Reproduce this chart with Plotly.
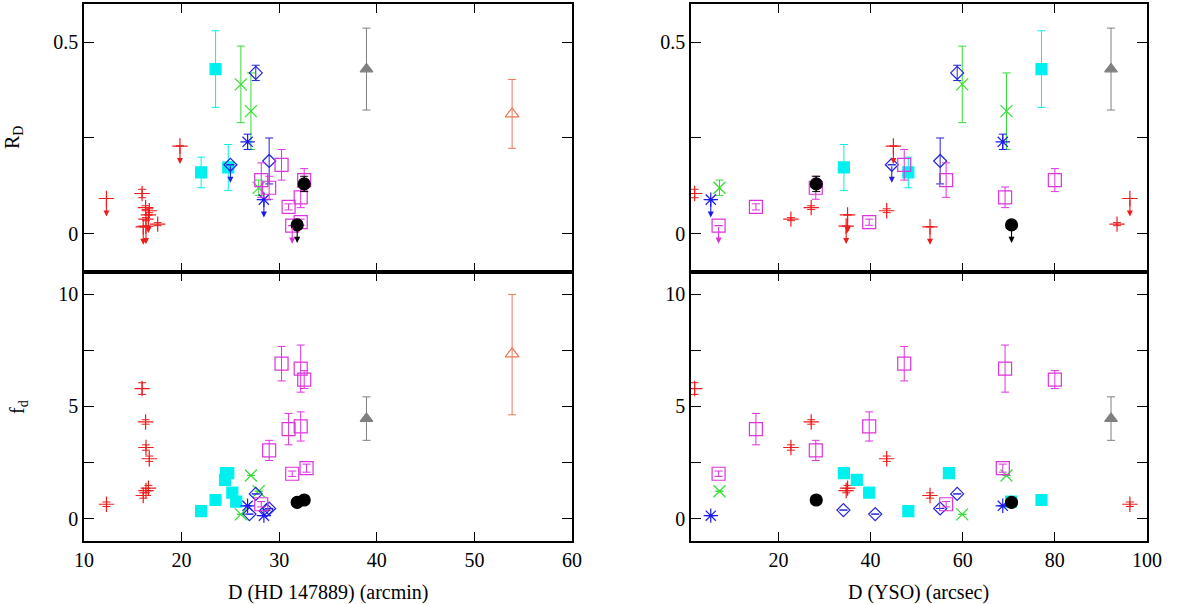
import plotly.graph_objects as go

# ---------------- data ----------------
# red "+" sources
red_dhd = [15.95, 12.3, 16.31, 16.35, 16.69, 16.6, 16.35, 16.07, 17.55, 19.83]
red_dyso = [1.8, 96.3, 27.1, 22.7, 43.5, 35.0, 34.7, 52.9, 93.5, 44.95]
red_rd = [0.105, 0.092, 0.068, 0.038, 0.060, 0.049, 0.020, 0.018, 0.025, 0.229]
red_rd_err = [0.011, 0, 0.005, 0.004, 0.005, 0, 0, 0, 0.004, 0]
red_rd_lim = [0, 1, 0, 0, 0, 1, 1, 1, 0, 1]
red_fd = [5.80, 0.64, 4.31, 3.17, 2.67, 1.36, 1.25, 1.03, None, None]
red_fd_err = [0.26, 0.10, 0.10, 0.12, 0.12, 0.12, 0.10, 0.12, None, None]

# cyan filled squares
cya_dhd = [23.48, 22.0, 24.78, 24.45, 25.2, 24.55, 25.6]
cya_dyso = [77.1, 48.2, 34.2, 37.0, 39.7, 57.0, 70.5]
cya_rd = [0.43, 0.16, 0.173, None, None, None, None]
cya_rd_err = [0.10, 0.04, 0.06, None, None, None, None]
cya_rd_lim = [0, 0, 0, 0, 0, 0, 0]
cya_fd = [0.83, 0.33, 2.03, 1.73, 1.16, 2.03, 0.76]
cya_fd_err = [0, 0, 0, 0, 0, 0, 0]

# green crosses
grn_dhd = [26.07, 27.1, 27.9]
grn_dyso = [59.9, 69.5, 7.2]
grn_rd = [0.39, 0.32, 0.12]
grn_rd_err = [0.10, 0.10, 0.02]
grn_rd_lim = [0, 0, 0]
grn_fd = [0.19, 1.92, 1.22]
grn_fd_err = [0, 0, 0]

# blue open diamonds
bdi_dhd = [27.6, 25.0, 28.97, 26.95, 28.7]
bdi_dyso = [58.8, 44.6, 55.1, 41.0, 34.1]
bdi_rd = [0.42, 0.18, 0.19, None, None]
bdi_rd_err = [0.02, 0, 0.06, None, None]
bdi_rd_lim = [0, 1, 0, 0, 0]
bdi_fd = [1.10, None, 0.45, 0.20, 0.38]
bdi_fd_err = [0, None, 0, 0, 0]

# blue asterisks
bas_dhd = [26.76, 28.43]
bas_dyso = [68.7, 5.3]
bas_rd = [0.24, 0.089]
bas_rd_err = [0.02, 0]
bas_rd_lim = [0, 1]
bas_fd = [0.57, 0.13]
bas_fd_err = [0, 0]

# magenta open squares
mag_dhd = [30.24, 28.16, 28.97, 30.96, 32.2, 32.56, 31.33, 32.2, 32.8]
mag_dyso = [47.3, 56.4, 28.1, 15.1, 69.2, 80.0, 7.0, 39.7, 68.7]
mag_rd = [0.18, 0.14, 0.12, 0.07, 0.095, 0.14, 0.021, 0.03, None]
mag_rd_err = [0.04, 0.045, 0.03, 0.008, 0.027, 0.03, 0, 0.008, None]
mag_rd_lim = [0, 0, 0, 0, 0, 0, 1, 0, 0]
mag_fd = [6.91, 0.64, 3.04, 3.99, 6.69, 6.20, 2.00, 4.11, 2.25]
mag_fd_err = [0.77, 0.12, 0.45, 0.70, 1.05, 0.40, 0.12, 0.65, 0.18]

# black filled circles
blk_dhd = [32.56, 31.84]
blk_dyso = [28.2, 70.6]
blk_rd = [0.13, 0.023]
blk_rd_err = [0.02, 0]
blk_rd_lim = [0, 1]
blk_fd = [0.83, 0.72]
blk_fd_err = [0, 0]

# gray filled triangle
gry_dhd = [38.94]
gry_dyso = [92.2]
gry_rd = [0.43]
gry_rd_err = [0.107]
gry_rd_lim = [0]
gry_fd = [4.46]
gry_fd_err = [0.97]

# orange open triangle (no YSO distance)
org_dhd = [53.86]
org_dyso = [None]
org_rd = [0.313]
org_rd_err = [0.09]
org_rd_lim = [0]
org_fd = [7.35]
org_fd_err_plus = [2.65]
org_fd_err_minus = [2.72]

# axis ticks
x_left_ticks = [10, 20, 30, 40, 50, 60]
x_right_ticks = [20, 40, 60, 80, 100]
rd_ticks = [0, 0.25, 0.5]
rd_labels = ["0", "", "0.5"]
fd_ticks = [0, 2.5, 5, 7.5, 10]
fd_labels = ["0", "", "5", "", "10"]

# ---------------- styles ----------------
groups = [
    dict(dhd=red_dhd, dyso=red_dyso, rd=red_rd, rde=red_rd_err, lim=red_rd_lim,
         fd=red_fd, fde=red_fd_err, color="#ee1c1c", symbol="cross-thin-open", size=11),
    dict(dhd=cya_dhd, dyso=cya_dyso, rd=cya_rd, rde=cya_rd_err, lim=cya_rd_lim,
         fd=cya_fd, fde=cya_fd_err, color="#00f0f0", symbol="square", size=11),
    dict(dhd=grn_dhd, dyso=grn_dyso, rd=grn_rd, rde=grn_rd_err, lim=grn_rd_lim,
         fd=grn_fd, fde=grn_fd_err, color="#33dd33", symbol="x-thin-open", size=12),
    dict(dhd=bdi_dhd, dyso=bdi_dyso, rd=bdi_rd, rde=bdi_rd_err, lim=bdi_rd_lim,
         fd=bdi_fd, fde=bdi_fd_err, color="#2222dd", symbol="diamond-open", size=10),
    dict(dhd=bas_dhd, dyso=bas_dyso, rd=bas_rd, rde=bas_rd_err, lim=bas_rd_lim,
         fd=bas_fd, fde=bas_fd_err, color="#1a1aee", symbol="asterisk-open", size=12),
    dict(dhd=mag_dhd, dyso=mag_dyso, rd=mag_rd, rde=mag_rd_err, lim=mag_rd_lim,
         fd=mag_fd, fde=mag_fd_err, color="#dd33dd", symbol="square-open", size=13),
    dict(dhd=blk_dhd, dyso=blk_dyso, rd=blk_rd, rde=blk_rd_err, lim=blk_rd_lim,
         fd=blk_fd, fde=blk_fd_err, color="#000000", symbol="circle", size=12),
    dict(dhd=gry_dhd, dyso=gry_dyso, rd=gry_rd, rde=gry_rd_err, lim=gry_rd_lim,
         fd=gry_fd, fde=gry_fd_err, color="#808080", symbol="triangle-up", size=11),
    dict(dhd=org_dhd, dyso=org_dyso, rd=org_rd, rde=org_rd_err, lim=org_rd_lim,
         fd=org_fd, fde=org_fd_err_plus, fdem=org_fd_err_minus,
         color="#ee7755", symbol="triangle-up-open", size=12),
]

ARROW_LEN = 0.047

fig = go.Figure()
annotations = []

# panel: (x key, y key, xaxis name, yaxis name)
panels = [
    ("dhd", "rd", "x", "y"),
    ("dyso", "rd", "x2", "y2"),
    ("dhd", "fd", "x3", "y3"),
    ("dyso", "fd", "x4", "y4"),
]

for g in groups:
    for xk, yk, xa, ya in panels:
        xs, ys, es, esm = [], [], [], []
        for i in range(len(g[xk])):
            xv = g[xk][i]
            yv = g[yk][i]
            if xv is None or yv is None:
                continue
            if yk == "rd":
                err = g["rde"][i] or 0
                errm = err
                if g["lim"][i]:
                    annotations.append(dict(
                        x=xv, y=yv - ARROW_LEN, ax=xv, ay=yv,
                        xref=xa, yref=ya, axref=xa, ayref=ya,
                        text="", showarrow=True, arrowhead=2, arrowsize=1.1,
                        arrowwidth=1.1, arrowcolor=g["color"], standoff=0,
                        startstandoff=0))
            else:
                err = g["fde"][i] or 0
                errm = g["fdem"][i] if "fdem" in g else err
            xs.append(xv)
            ys.append(yv)
            es.append(err)
            esm.append(errm)
        if not xs:
            continue
        fig.add_trace(go.Scatter(
            x=xs, y=ys, mode="markers", xaxis=xa, yaxis=ya, showlegend=False,
            marker=dict(symbol=g["symbol"], size=g["size"], color=g["color"],
                        line=dict(width=1.2, color=g["color"])),
            error_y=dict(type="data", array=es, arrayminus=esm, symmetric=False,
                         color=g["color"], thickness=1, width=4),
        ))

# ---------------- layout ----------------
FONT = "Liberation Serif"
xl = [0.070, 0.4767]
xr = [0.5758, 0.9558]
yt = [0.5497, 0.9934]
yb = [0.1043, 0.5497]

def xaxis(dom, rng, ticks, anchor, labels):
    return dict(domain=dom, range=rng, tickvals=ticks, showticklabels=labels,
                ticks="inside", ticklen=9, tickwidth=1.3, tickcolor="black",
                showline=True, linecolor="black", linewidth=1.6, mirror="allticks",
                showgrid=False, zeroline=False, anchor=anchor, automargin=False,
                tickfont=dict(family=FONT, size=20, color="black"))

def yaxis(dom, rng, ticks, text, anchor):
    return dict(domain=dom, range=rng, tickvals=ticks, ticktext=text,
                ticks="inside", ticklen=10, tickwidth=1.3, tickcolor="black",
                showline=True, linecolor="black", linewidth=1.6, mirror="allticks",
                showgrid=False, zeroline=False, anchor=anchor, automargin=False,
                tickfont=dict(family=FONT, size=20, color="black"))

title_font = dict(family=FONT, size=20, color="black")
annotations += [
    dict(text="R<sub>D</sub>", x=14 / 1200, y=1 - 138 / 604, xref="paper", yref="paper",
         xanchor="center", yanchor="middle",
         showarrow=False, textangle=-90, font=title_font),
    dict(text="f<sub>d</sub>", x=18 / 1200, y=1 - 407 / 604, xref="paper", yref="paper",
         xanchor="center", yanchor="middle",
         showarrow=False, textangle=-90, font=title_font),
    dict(text="D (HD 147889) (arcmin)", x=328 / 1200, y=1 - 592 / 604,
         xref="paper", yref="paper", xanchor="center", yanchor="middle",
         showarrow=False, font=title_font),
    dict(text="D (YSO) (arcsec)", x=918 / 1200, y=1 - 592 / 604,
         xref="paper", yref="paper", xanchor="center", yanchor="middle",
         showarrow=False, font=title_font),
]

fig.update_layout(
    width=1200, height=604,
    margin=dict(l=0, r=0, t=0, b=0),
    paper_bgcolor="white", plot_bgcolor="white",
    font=dict(family=FONT, size=20, color="black"),
    xaxis=xaxis(xl, [10, 60], x_left_ticks, "y", False),
    yaxis=yaxis(yt, [-0.1, 0.6], rd_ticks, rd_labels, "x"),
    xaxis2=xaxis(xr, [1, 100], x_right_ticks, "y2", False),
    yaxis2=yaxis(yt, [-0.1, 0.6], rd_ticks, rd_labels, "x2"),
    xaxis3=xaxis(xl, [10, 60], x_left_ticks, "y3", True),
    yaxis3=yaxis(yb, [-1, 11], fd_ticks, fd_labels, "x3"),
    xaxis4=xaxis(xr, [1, 100], x_right_ticks, "y4", True),
    yaxis4=yaxis(yb, [-1, 11], fd_ticks, fd_labels, "x4"),
    annotations=annotations,
)

fig.write_html("out.html", config={"displayModeBar": False},
               post_script="document.body.style.margin='0';")
